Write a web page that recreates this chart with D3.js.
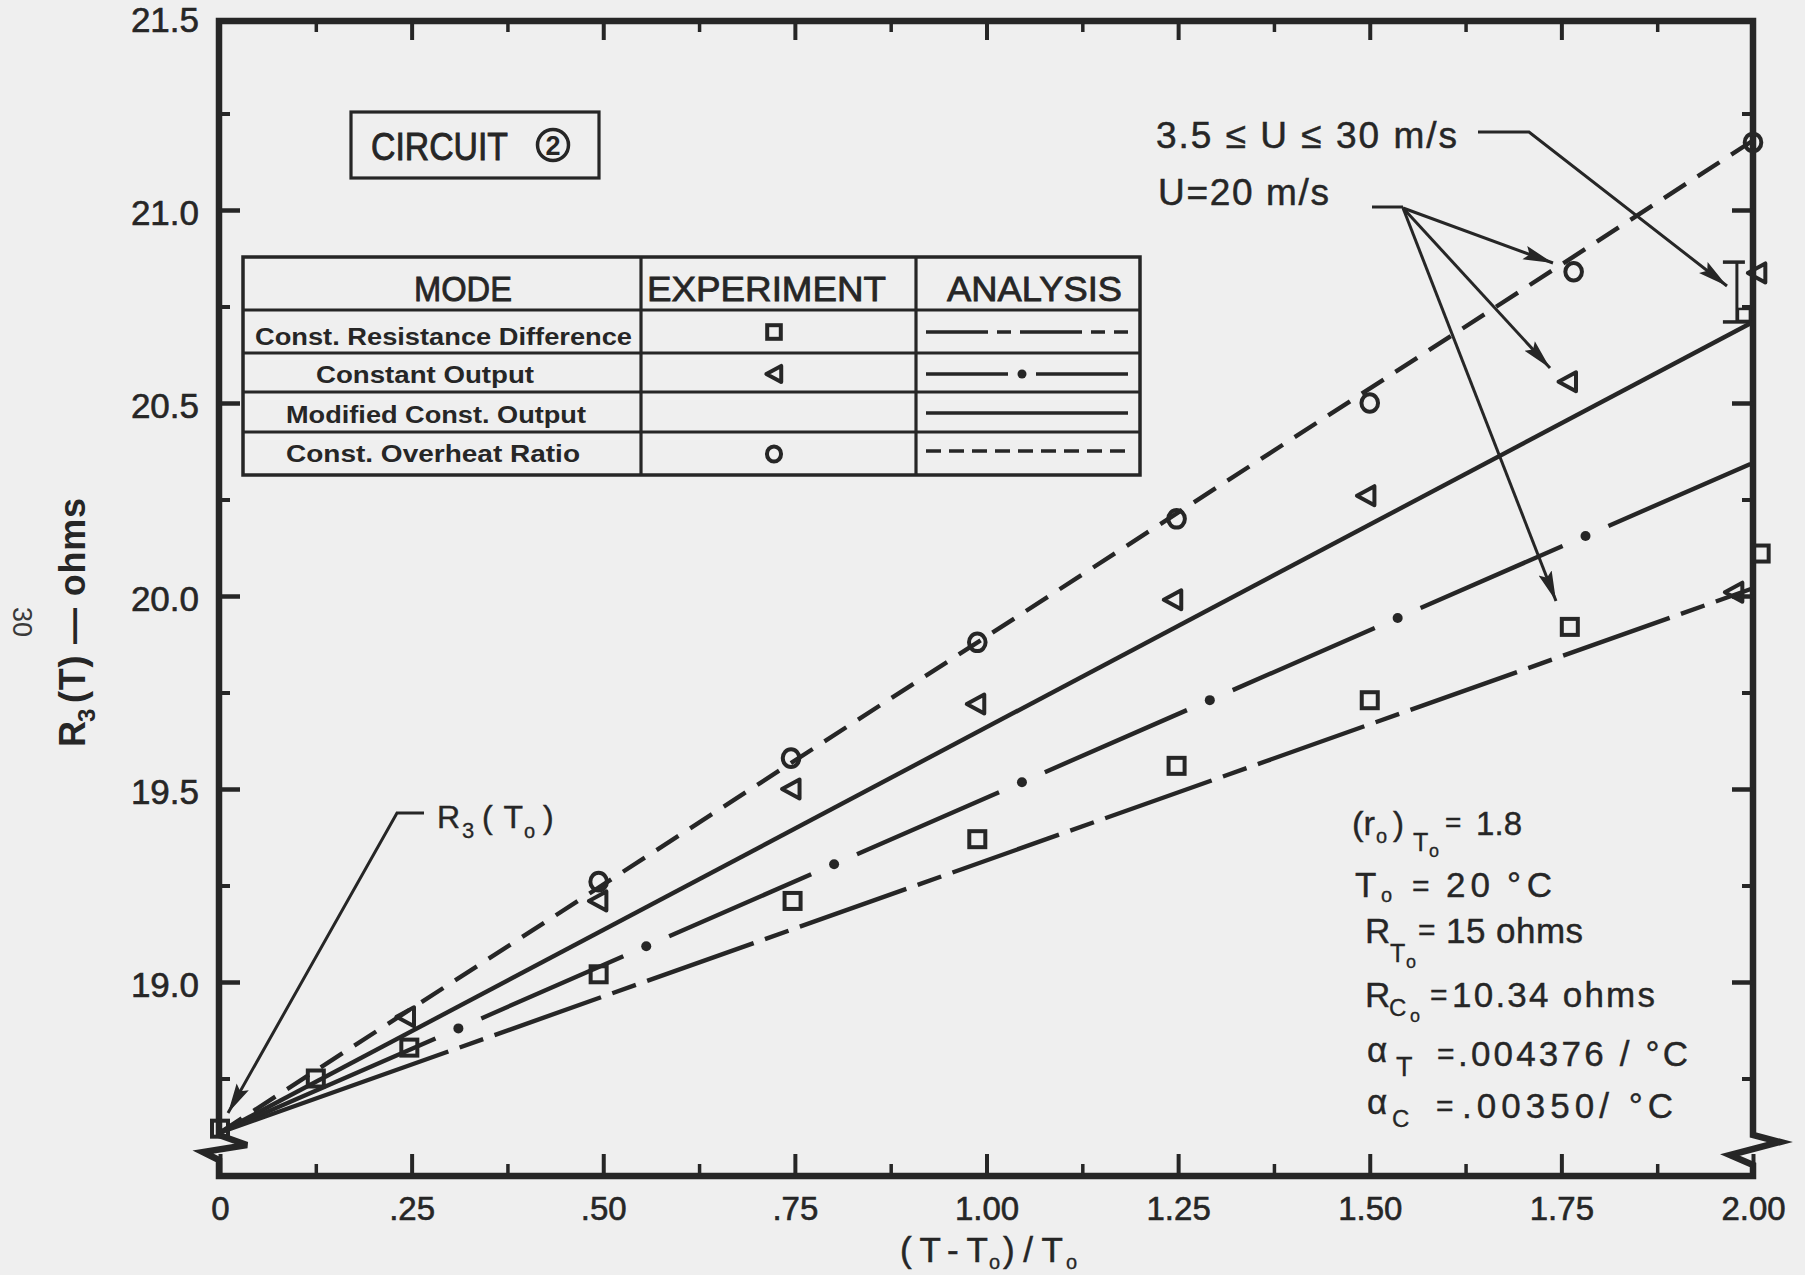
<!DOCTYPE html>
<html>
<head>
<meta charset="utf-8">
<title>Circuit 2 - R3(T) vs (T-T0)/T0</title>
<script src="https://cdn.jsdelivr.net/npm/d3@7/dist/d3.min.js"></script>
<style>
  html, body { margin:0; padding:0; background:#efefef; }
  svg { display:block; }
</style>
</head>
<body>
<svg id="chart" width="1805" height="1275"></svg>
<script>
// ---------------- data ----------------
const xTickValues = [0, 0.25, 0.5, 0.75, 1.0, 1.25, 1.5, 1.75, 2.0];
const xTickLabels = ["0", ".25", ".50", ".75", "1.00", "1.25", "1.50", "1.75", "2.00"];
const xMinorTicks = [0.125, 0.375, 0.625, 0.875, 1.125, 1.375, 1.625, 1.875];
const yTickValues = [19.0, 19.5, 20.0, 20.5, 21.0, 21.5];
const yTickLabels = ["19.0", "19.5", "20.0", "20.5", "21.0", "21.5"];
const yMinorTicks = [18.75, 19.25, 19.75, 20.25, 20.75, 21.25];

// Experiment - Const. Resistance Difference (squares)
const resDiffX = [0.0, 0.125, 0.247, 0.494, 0.747, 0.988, 1.248, 1.50, 1.761, 2.01];
const resDiffY = [18.62, 18.75, 18.83, 19.02, 19.21, 19.37, 19.56, 19.73, 19.92, 20.11];
// Experiment - Constant Output (triangles)
const constOutX = [0.242, 0.493, 0.745, 0.986, 1.243, 1.495, 1.758, 2.005, 1.975];
const constOutY = [18.91, 19.21, 19.50, 19.72, 19.99, 20.26, 20.555, 20.837, 20.01];
// Experiment - Const. Overheat Ratio (circles)
const overheatX = [0.494, 0.745, 0.988, 1.248, 1.50, 1.766, 2.0];
const overheatY = [19.26, 19.58, 19.88, 20.20, 20.50, 20.84, 21.175];

// Analysis curves (straight lines, end points)
const analysisX = [0.0, 2.0];
const resDiffLineY = [18.61, 20.02];
const constOutLineY = [18.61, 20.345];
const modifiedLineY = [18.61, 20.71];
const overheatLineY = [18.61, 21.18];

// range bar for 3.5 <= U <= 30 m/s
const rangeBarX = [1.979];
const rangeBarLow = [20.71];
const rangeBarHigh = [20.865];

// legend table rows
const modeNames = ["Const. Resistance Difference", "Constant Output", "Modified Const. Output", "Const. Overheat Ratio"];
const modeMarkers = ["square", "triangle", "none", "circle"];
const modeLines = ["resdiff", "constout", "solid", "dashed"];

// ---------------- drawing ----------------
const INK = "#262626";
const FONT = "'Liberation Sans', Arial, Helvetica, sans-serif";
const svg = d3.select("#chart");
svg.append("rect").attr("width", 1805).attr("height", 1275).attr("fill", "#efefef");

const frame = {left: 219, right: 1753, top: 21, bottom: 1176};
const x = d3.scaleLinear().domain([0, 2]).range([220, 1753]);
const y = d3.scaleLinear().domain([18.5, 21.5]).range([1175, 17]);

const zip = (xs, ys) => xs.map((v, i) => [v, ys[i]]);
const line = d3.line().x(d => x(d[0])).y(d => y(d[1]));

function txt(parent, xp, yp, str, size, opt = {}) {
  const t = parent.append("text").attr("x", xp).attr("y", yp)
    .attr("font-size", size).attr("font-family", FONT).attr("fill", INK).text(str);
  if (opt.weight) t.attr("font-weight", opt.weight);
  if (opt.anchor) t.attr("text-anchor", opt.anchor);
  if (opt.len) t.attr("textLength", opt.len).attr("lengthAdjust", opt.adjust || "spacingAndGlyphs");
  if (opt.stroke) t.attr("stroke", INK).attr("stroke-width", opt.stroke);
  return t;
}

// arrow marker
const defs = svg.append("defs");
defs.append("marker").attr("id", "arrow").attr("markerUnits", "userSpaceOnUse")
  .attr("markerWidth", 32).attr("markerHeight", 16).attr("refX", 30).attr("refY", 8)
  .attr("orient", "auto").attr("viewBox", "0 0 32 16")
  .append("path").attr("d", "M0,1 L30,8 L0,15 L5,8 Z").attr("fill", INK);

// ---- analysis lines ----
const gLines = svg.append("g").attr("fill", "none").attr("stroke", INK).attr("stroke-width", 4.4);

// const. overheat ratio: dashed
gLines.append("path").datum(zip(analysisX, overheatLineY)).attr("d", line)
  .attr("stroke-dasharray", "26 14");

// modified const. output: solid
gLines.append("path").datum(zip(analysisX, modifiedLineY)).attr("d", line);

// constant output: long dash - dot
{
  const p = gLines.append("path").datum(zip(analysisX, constOutLineY)).attr("d", line);
  const L = p.node().getTotalLength();
  const period = 205, gap = 50, dash = period - gap;
  const firstDot = (0.311 / 2) * L;
  const arr = [firstDot - gap / 2];
  let s = firstDot - gap / 2;
  while (s < L) { arr.push(gap, dash); s += period; }
  p.attr("stroke-dasharray", arr.join(" "));
  for (let d = firstDot; d < L - 20; d += period) {
    const pt = p.node().getPointAtLength(d);
    svg.append("circle").attr("cx", pt.x).attr("cy", pt.y).attr("r", 5).attr("fill", INK);
  }
}

// const. resistance difference: long dash - short dash
{
  const p = gLines.append("path").datum(zip(analysisX, resDiffLineY)).attr("d", line);
  const L = p.node().getTotalLength();
  const longD = 113, shortD = 25, gap = 12;
  const firstShort = (0.328 / 2) * L;
  const arr = [firstShort - shortD / 2 - gap];
  let s = arr[0];
  while (s < L) { arr.push(gap, shortD, gap, longD); s += gap * 2 + shortD + longD; }
  p.attr("stroke-dasharray", arr.join(" "));
}

// ---- frame with axis breaks ----
svg.append("path")
  .attr("d", `M${frame.left},${frame.top} L${frame.left},1135 L247,1145 L203,1152 L${frame.left},1160 ` +
             `L${frame.left},${frame.bottom} L${frame.right},${frame.bottom} L${frame.right},1165 L1730,1155 ` +
             `L1780,1142 L${frame.right},1135 L${frame.right},${frame.top} Z`)
  .attr("fill", "none").attr("stroke", INK).attr("stroke-width", 6.5).attr("stroke-linejoin", "miter");

// ---- axes (ticks point inward) ----
function styleAxis(g, w) {
  g.select(".domain").remove();
  g.selectAll(".tick line").attr("stroke", INK).attr("stroke-width", w);
  g.selectAll(".tick text").attr("fill", INK).attr("font-family", FONT);
}
const gB = svg.append("g").attr("transform", `translate(0,${frame.bottom})`)
  .call(d3.axisBottom(x).tickValues(xTickValues).tickSize(-22).tickPadding(21)
    .tickFormat((d, i) => xTickLabels[i]));
styleAxis(gB, 4);
gB.selectAll(".tick text").attr("font-size", 33).attr("stroke", INK).attr("stroke-width", 0.6);
const gBm = svg.append("g").attr("transform", `translate(0,${frame.bottom})`)
  .call(d3.axisBottom(x).tickValues(xMinorTicks).tickSize(-12).tickFormat(""));
styleAxis(gBm, 3.5);

const gT = svg.append("g").attr("transform", `translate(0,${frame.top})`)
  .call(d3.axisTop(x).tickValues(xTickValues.slice(1, -1)).tickSize(-19).tickFormat(""));
styleAxis(gT, 4);
const gTm = svg.append("g").attr("transform", `translate(0,${frame.top})`)
  .call(d3.axisTop(x).tickValues(xMinorTicks).tickSize(-11).tickFormat(""));
styleAxis(gTm, 3.5);

const gL = svg.append("g").attr("transform", `translate(${frame.left},0)`)
  .call(d3.axisLeft(y).tickValues(yTickValues).tickSize(-21).tickPadding(20)
    .tickFormat((d, i) => yTickLabels[i]));
styleAxis(gL, 4.5);
gL.selectAll(".tick text").attr("font-size", 35).attr("dy", "0.42em")
  .attr("stroke", INK).attr("stroke-width", 0.6);
gL.selectAll(".tick line").filter(d => d === 21.5).remove();
const gLm = svg.append("g").attr("transform", `translate(${frame.left},0)`)
  .call(d3.axisLeft(y).tickValues(yMinorTicks).tickSize(-11).tickFormat(""));
styleAxis(gLm, 4);

const gR = svg.append("g").attr("transform", `translate(${frame.right},0)`)
  .call(d3.axisRight(y).tickValues(yTickValues.slice(0, -1)).tickSize(-21).tickFormat(""));
styleAxis(gR, 4.5);
const gRm = svg.append("g").attr("transform", `translate(${frame.right},0)`)
  .call(d3.axisRight(y).tickValues(yMinorTicks).tickSize(-11).tickFormat(""));
styleAxis(gRm, 4);

// ---- markers ----
const MS = 4;
function drawMarker(g, type, cx, cy, k = 1) {
  if (type === "square") {
    g.append("rect").attr("x", cx - 8 * k).attr("y", cy - 8 * k).attr("width", 16 * k).attr("height", 16 * k)
      .attr("fill", "none").attr("stroke", INK).attr("stroke-width", MS);
  } else if (type === "triangle") {
    g.append("path").attr("d", `M${cx - 9 * k},${cy} L${cx + 8.5 * k},${cy - 9.5 * k} L${cx + 8.5 * k},${cy + 9.5 * k} Z`)
      .attr("fill", "none").attr("stroke", INK).attr("stroke-width", MS).attr("stroke-linejoin", "round");
  } else if (type === "circle") {
    g.append("ellipse").attr("cx", cx).attr("cy", cy).attr("rx", 8.3 * k).attr("ry", 8.8 * k)
      .attr("fill", "none").attr("stroke", INK).attr("stroke-width", MS);
  }
}
const gMarks = svg.append("g");
zip(resDiffX, resDiffY).forEach(d => drawMarker(gMarks, "square", x(d[0]), y(d[1])));
zip(constOutX, constOutY).forEach(d => drawMarker(gMarks, "triangle", x(d[0]), y(d[1])));
zip(overheatX, overheatY).forEach(d => drawMarker(gMarks, "circle", x(d[0]), y(d[1])));

// range bar (3.5 <= U <= 30 m/s)
rangeBarX.forEach((bx, i) => {
  const px = x(bx), yh = y(rangeBarHigh[i]), yl = y(rangeBarLow[i]);
  const g = svg.append("g").attr("stroke", INK).attr("fill", "none");
  g.append("line").attr("x1", px).attr("x2", px).attr("y1", yh).attr("y2", yl).attr("stroke-width", 3);
  g.append("line").attr("x1", px - 14).attr("x2", px + 8).attr("y1", yh).attr("y2", yh).attr("stroke-width", 3.5);
  g.append("line").attr("x1", px - 14).attr("x2", x(2)).attr("y1", yl).attr("y2", yl).attr("stroke-width", 3.5);
  g.append("rect").attr("x", px + 1).attr("y", yl - 13).attr("width", 12).attr("height", 12).attr("stroke-width", 2.5);
});

// ---- legend table ----
const tb = {left: 243, right: 1140, top: 257, bottom: 475, rows: [310, 353, 392, 432], cols: [641, 916]};
const gTab = svg.append("g");
gTab.append("rect").attr("x", tb.left).attr("y", tb.top).attr("width", tb.right - tb.left)
  .attr("height", tb.bottom - tb.top).attr("fill", "none").attr("stroke", INK).attr("stroke-width", 3.5);
tb.rows.forEach(r => gTab.append("line").attr("x1", tb.left).attr("x2", tb.right).attr("y1", r).attr("y2", r)
  .attr("stroke", INK).attr("stroke-width", 3.2));
tb.cols.forEach(c => gTab.append("line").attr("x1", c).attr("x2", c).attr("y1", tb.top).attr("y2", tb.bottom)
  .attr("stroke", INK).attr("stroke-width", 3.2));
txt(gTab, 414, 301, "MODE", 35, {len: 98, stroke: 0.8});
txt(gTab, 647, 301, "EXPERIMENT", 35, {len: 239, stroke: 0.8});
txt(gTab, 947, 301, "ANALYSIS", 35, {len: 175, stroke: 0.8});

const rowText = [[255, 345, 377], [316, 383, 218], [286, 423, 300], [286, 462, 294]];
const rowMid = [332, 374, 413, 451];
modeNames.forEach((name, i) => {
  txt(gTab, rowText[i][0], rowText[i][1], name, 23, {weight: "bold", len: rowText[i][2]});
  drawMarker(gTab, modeMarkers[i], 774, rowMid[i] + (i === 3 ? 3 : 0), 0.85);
  const ly = rowMid[i];
  const ln = gTab.append("line").attr("x1", 926).attr("x2", 1128).attr("y1", ly).attr("y2", ly)
    .attr("stroke", INK).attr("stroke-width", 3.5);
  if (modeLines[i] === "resdiff") ln.attr("stroke-dasharray", "62 9 14 9");
  if (modeLines[i] === "dashed") ln.attr("stroke-dasharray", "15 8");
  if (modeLines[i] === "constout") {
    ln.attr("stroke-dasharray", "82 28 100");
    gTab.append("circle").attr("cx", 1022).attr("cy", ly).attr("r", 4.5).attr("fill", INK);
  }
});

// ---- CIRCUIT 2 box ----
const gC = svg.append("g");
gC.append("rect").attr("x", 351).attr("y", 112).attr("width", 248).attr("height", 66)
  .attr("fill", "none").attr("stroke", INK).attr("stroke-width", 3.2);
txt(gC, 371, 160, "CIRCUIT", 38, {len: 137, stroke: 0.9});
gC.append("circle").attr("cx", 553).attr("cy", 145).attr("r", 15.5).attr("fill", "none")
  .attr("stroke", INK).attr("stroke-width", 3.5);
txt(gC, 553, 155, "2", 27, {anchor: "middle", weight: "bold"});

// ---- annotations ----
const gA = svg.append("g");
const leader = (pts, arrow) => {
  const p = gA.append("path").attr("d", d3.line()(pts)).attr("fill", "none")
    .attr("stroke", INK).attr("stroke-width", 3);
  if (arrow) p.attr("marker-end", "url(#arrow)");
};
txt(gA, 1156, 148, "3.5 \u2264 U  \u2264 30 m/s", 37, {len: 301, adjust: "spacing", stroke: 0.5});
leader([[1478, 132], [1529, 132], [1727, 286]], true);
txt(gA, 1158, 205, "U=20 m/s", 37, {len: 171, adjust: "spacing", stroke: 0.5});
leader([[1372, 207], [1403, 207]], false);
leader([[1403, 208], [1553, 263]], true);
leader([[1403, 208], [1550, 368]], true);
leader([[1403, 208], [1556, 601]], true);

// R3(T0)
txt(gA, 437, 828, "R", 32, {stroke: 0.4});
txt(gA, 462, 838, "3", 22, {stroke: 0.3});
txt(gA, 482, 828, "(T", 32, {len: 41, adjust: "spacing", stroke: 0.4});
txt(gA, 524, 838, "o", 20, {stroke: 0.3});
txt(gA, 543, 828, ")", 32, {stroke: 0.4});
leader([[424, 813], [397, 813], [228, 1113]], true);

// constants
const gK = svg.append("g");
txt(gK, 1352, 835, "(r", 33, {len: 23, stroke: 0.4});
txt(gK, 1376, 843, "o", 20, {stroke: 0.3});
txt(gK, 1393, 835, ")", 33, {stroke: 0.4});
txt(gK, 1413, 851, "T", 25, {stroke: 0.3});
txt(gK, 1429, 857, "o", 18, {stroke: 0.3});
txt(gK, 1445, 832, "=", 28, {stroke: 0.4});
txt(gK, 1476, 835, "1.8", 33, {len: 46, adjust: "spacing", stroke: 0.4});

txt(gK, 1355, 897, "T", 35, {stroke: 0.4});
txt(gK, 1381, 902, "o", 20, {stroke: 0.3});
txt(gK, 1412, 896, "=", 30, {stroke: 0.4});
txt(gK, 1446, 897, "20", 35, {len: 44, adjust: "spacing", stroke: 0.4});
txt(gK, 1507, 897, "\u00B0C", 35, {len: 45, adjust: "spacing", stroke: 0.4});

txt(gK, 1365, 943, "R", 35, {stroke: 0.4});
txt(gK, 1390, 962, "T", 25, {stroke: 0.3});
txt(gK, 1406, 968, "o", 18, {stroke: 0.3});
txt(gK, 1418, 940, "=", 30, {stroke: 0.4});
txt(gK, 1446, 943, "15 ohms", 35, {len: 137, adjust: "spacing", stroke: 0.4});

txt(gK, 1365, 1007, "R", 35, {stroke: 0.4});
txt(gK, 1389, 1016, "C", 24, {stroke: 0.3});
txt(gK, 1410, 1022, "o", 18, {stroke: 0.3});
txt(gK, 1430, 1005, "=", 30, {stroke: 0.4});
txt(gK, 1452, 1007, "10.34 ohms", 35, {len: 203, adjust: "spacing", stroke: 0.4});

txt(gK, 1367, 1062, "\u03B1", 35, {stroke: 0.4});
txt(gK, 1396, 1076, "T", 27, {stroke: 0.3});
txt(gK, 1437, 1064, "=", 30, {stroke: 0.4});
txt(gK, 1458, 1066, ".004376 / \u00B0C", 35, {len: 230, adjust: "spacing", stroke: 0.4});

txt(gK, 1367, 1114, "\u03B1", 35, {stroke: 0.4});
txt(gK, 1392, 1127, "C", 24, {stroke: 0.3});
txt(gK, 1436, 1116, "=", 30, {stroke: 0.4});
txt(gK, 1462, 1118, ".00350/ \u00B0C", 35, {len: 211, adjust: "spacing", stroke: 0.4});

// ---- axis titles ----
const gX = svg.append("g");
txt(gX, 900, 1262, "(T-T", 35, {len: 88, adjust: "spacing", stroke: 0.5});
txt(gX, 989, 1269, "o", 20, {stroke: 0.3});
txt(gX, 1003, 1262, ")/T", 35, {len: 60, adjust: "spacing", stroke: 0.5});
txt(gX, 1066, 1269, "o", 20, {stroke: 0.3});

const gY = svg.append("g").attr("transform", "translate(85,747) rotate(-90)");
txt(gY, 0, 0, "R", 36, {weight: "bold"});
txt(gY, 25, 10, "3", 24, {weight: "bold"});
txt(gY, 44, 0, "(T) \u2014 ohms", 36, {weight: "bold", len: 205, adjust: "spacing"});

// stray rotated mark at left margin
svg.append("g").attr("transform", "translate(13,607) rotate(90)")
  .append("text").attr("x", 0).attr("y", 0).attr("font-size", 27).attr("font-family", FONT)
  .attr("fill", "#3a3a3a").text("30");
</script>
</body>
</html>
